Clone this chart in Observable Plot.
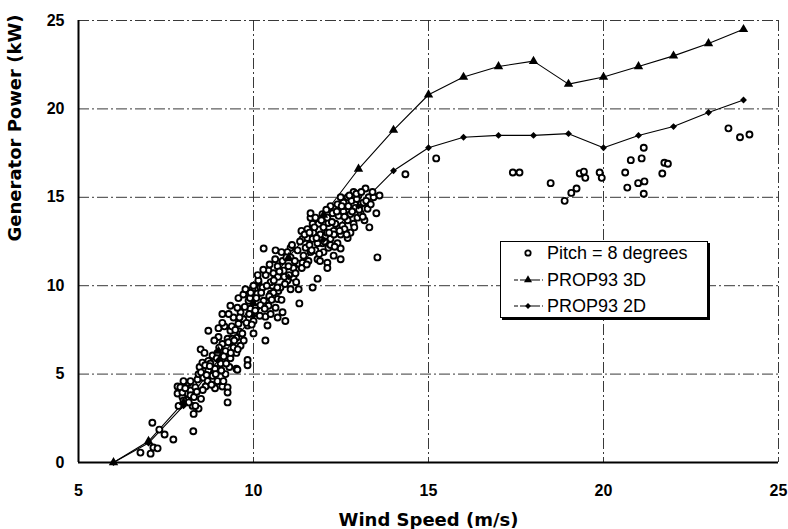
<!DOCTYPE html>
<html>
<head>
<meta charset="utf-8">
<script src="https://cdn.jsdelivr.net/npm/d3@7"></script>
<script src="https://cdn.jsdelivr.net/npm/@observablehq/plot@0.6"></script>
<style>
  body { margin: 0; background: #fff; }
  #wrap { position: relative; width: 788px; height: 529px; }
  #legend { position: absolute; left: 500px; top: 241px; width: 206px; height: 75px;
            border: 1px solid #000; box-shadow: 2px 2px 0 #000; background: #fff; }
</style>
</head>
<body>
<div id="wrap"></div>
<script>
// ---- data ----
const xTicks = [5, 10, 15, 20, 25];
const yTicks = [0, 5, 10, 15, 20, 25];
const xGrid = [10, 15, 20, 25];
const yGrid = [5, 10, 15, 20, 25];

const modelWind = [6, 7, 8, 9, 10, 11, 12, 13, 14, 15, 16, 17, 18, 19, 20, 21, 22, 23, 24];
const prop3D = [0, 1.2, 3.4, 6.3, 9.0, 11.6, 14.0, 16.6, 18.8, 20.8, 21.8, 22.4, 22.7, 21.4, 21.8, 22.4, 23.0, 23.7, 24.5];
const prop2D = [0, 1.1, 3.2, 5.8, 8.3, 10.5, 12.6, 14.5, 16.5, 17.8, 18.4, 18.5, 18.5, 18.6, 17.8, 18.5, 19.0, 19.8, 20.5];

const legendLabels = ["Pitch = 8 degrees", "PROP93 3D", "PROP93 2D"];
const xTitle = "Wind Speed (m/s)";
const yTitle = "Generator Power (kW)";

// measured points, Pitch = 8 degrees: [wind speed, power]
const pitchPoints = [
  [6.77,0.56],[7.06,0.5],[7.14,0.85],[7.26,0.8],[7.11,2.25],[7.31,1.86],[7.46,1.58],[7.71,1.3],
  [8.28,1.77],[7.83,4.3],[7.86,3.2],[7.83,3.9],[7.97,3.7],[7.91,4.25],[8.11,3.9],[8.2,4.07],
  [8.14,4.5],[8.34,4.25],[8.2,4.6],[8.4,4.7],[8.26,3.2],[8.43,3.05],[8.29,2.75],[8.0,4.6],
  [7.97,3.96],[8.2,3.8],[8.0,3.5],[8.34,3.2],[8.46,5.4],[8.43,5.0],[8.57,4.8],[8.71,5.2],
  [8.69,4.6],[8.83,4.9],[8.63,4.3],[8.97,4.6],[9.11,4.3],[9.26,4.25],[9.26,3.96],[9.14,4.6],
  [8.49,6.4],[8.54,5.65],[8.71,5.75],[8.83,6.05],[8.77,5.6],[8.97,6.2],[9.06,5.6],[9.11,6.7],
  [9.2,6.3],[9.34,5.9],[9.26,7.0],[9.43,6.5],[9.51,6.2],[9.51,5.3],[9.31,5.4],[9.0,7.1],
  [9.0,7.6],[9.17,7.7],[9.34,7.45],[9.51,7.05],[9.63,6.6],[9.57,7.85],[9.43,8.2],[9.29,8.4],
  [9.11,7.9],[9.63,8.5],[9.71,8.1],[9.83,7.75],[9.57,9.3],[9.71,9.5],[9.86,9.15],[9.91,8.7],
  [9.97,9.8],[10.11,9.55],[10.14,10.2],[10.0,7.3],[10.34,6.9],[9.83,5.8],[9.83,5.5],[9.54,5.25],
  [9.26,3.4],[10.34,8.25],[10.4,7.75],[10.69,8.2],[10.29,9.15],[10.43,8.87],[10.49,9.55],[10.54,10.0],
  [10.0,8.0],[9.11,8.4],[9.34,8.87],[8.71,7.45],[10.63,8.75],[10.69,9.25],[10.71,9.7],[10.83,8.5],
  [10.91,8.0],[10.49,8.4],[10.2,9.9],[9.54,8.75],[8.88,6.9],[8.6,6.2],[8.9,5.3],[9.4,7.0],
  [9.77,9.8],[10.0,10.0],[10.14,10.3],[10.26,9.9],[10.49,10.2],[10.43,10.85],[10.57,10.7],[10.69,11.1],
  [10.83,11.4],[10.86,10.85],[11.06,11.6],[11.14,11.0],[11.29,11.25],[11.06,12.15],[10.97,11.9],[11.26,12.0],
  [11.43,11.7],[11.49,12.15],[11.63,11.9],[11.57,11.4],[11.83,11.5],[11.77,12.0],[12.0,11.9],[11.97,12.4],
  [12.14,12.15],[12.11,11.3],[12.29,11.7],[11.4,12.65],[11.54,12.7],[11.69,12.65],[11.83,12.4],[11.71,13.0],
  [11.91,12.9],[12.06,12.8],[12.2,12.65],[12.4,12.4],[12.49,12.1],[12.29,13.1],[12.49,12.9],[12.69,12.7],
  [12.77,13.0],[11.54,13.2],[11.37,13.1],[11.69,13.5],[11.86,13.5],[12.0,13.3],[12.14,13.55],[12.34,13.5],
  [12.54,13.4],[12.69,13.7],[12.86,13.5],[11.63,13.85],[11.63,14.1],[11.77,13.85],[11.97,14.05],[12.11,13.85],
  [12.26,14.1],[12.43,13.95],[12.57,14.2],[12.77,14.05],[12.97,13.85],[12.2,14.5],[12.4,14.6],[12.57,14.7],
  [12.71,14.5],[12.91,14.4],[13.06,14.6],[12.49,15.0],[12.69,15.0],[12.86,15.3],[13.0,15.1],[13.2,15.5],
  [13.29,15.0],[13.43,15.0],[13.6,15.1],[13.4,15.3],[13.14,14.7],[13.26,14.35],[13.06,14.1],[13.17,13.7],
  [13.31,13.3],[13.51,14.1],[13.54,11.6],[12.49,11.5],[11.69,9.9],[11.83,10.4],[11.14,10.45],[10.97,10.3],
  [10.77,9.9],[11.06,9.8],[10.57,9.6],[10.29,12.1],[10.63,12.0],[11.29,9.8],[11.31,9.0],[12.11,11.0],
  [11.2,10.7],[11.4,11.3],[11.0,11.1],[10.7,10.5],[10.35,10.6],[10.9,10.1],[11.6,12.3],[12.3,12.9],
  [12.6,13.2],[12.1,13.0],[12.8,14.8],[12.95,14.9],[11.9,11.4],[12.2,12.3],[10.45,9.4],[10.8,9.2],
  [9.9,9.3],[10.2,8.9],[9.6,7.4],[9.2,5.0],[8.9,4.2],[8.55,4.1],
  [8.05,4.2],[8.15,3.4],[8.3,3.7],[8.38,4.0],[8.5,3.6],[8.5,5.1],[8.62,5.5],[8.66,4.95],
  [8.75,5.45],[8.8,4.4],[8.92,5.0],[8.95,5.9],[9.02,6.5],[9.08,5.2],[9.15,6.0],[9.22,5.6],
  [9.28,6.8],[9.35,6.2],[9.38,7.7],[9.45,6.9],[9.48,7.5],[9.55,6.4],[9.6,8.2],[9.68,7.3],
  [9.72,6.9],[9.75,8.8],[9.8,7.9],[9.88,8.4],[9.92,9.6],[9.95,7.8],[10.05,8.6],[10.08,9.3],
  [10.12,10.6],[10.18,8.3],[10.22,9.6],[10.28,10.9],[10.32,8.7],[10.38,10.0],[10.46,11.2],[10.52,9.2],
  [10.58,10.3],[10.62,11.5],[10.68,9.9],[10.74,10.8],[10.8,11.9],[10.88,10.5],[10.94,11.6],[11.02,10.6],
  [11.1,12.3],[11.18,11.4],[11.22,10.2],[11.33,12.5],[11.38,11.0],[11.46,12.9],[11.52,11.2],[11.6,13.0],
  [11.66,12.0],[11.74,13.3],[11.8,12.7],[11.88,11.8],[11.94,13.7],[12.03,12.5],[12.08,14.3],[12.16,13.0],
  [12.24,13.6],[12.32,12.2],[12.38,14.2],[12.46,13.1],[12.52,14.5],[12.6,13.9],[12.66,12.9],[12.74,15.1],
  [12.82,14.2],[12.88,13.3],[12.94,15.2],[13.02,14.3],[13.08,15.3],[13.12,13.9],[13.22,14.8],[13.35,14.6],
  [14.34,16.3],[15.22,17.2],[17.41,16.4],[17.6,16.4],[18.49,15.8],[18.89,14.8],[19.08,15.25],[19.23,15.5],
  [19.32,16.35],[19.44,16.45],[19.48,16.1],[19.89,16.4],[19.95,16.1],[20.62,16.4],[20.68,15.55],[20.78,17.1],
  [20.99,15.8],[21.09,17.2],[21.15,17.8],[21.17,15.9],[21.15,15.2],[21.68,16.35],[21.74,16.95],[21.84,16.9],
  [23.57,18.9],[23.9,18.4],[24.17,18.55]
];

// ---- chart ----
const model3D = modelWind.map((w, i) => ({wind: w, power: prop3D[i]}));
const model2D = modelWind.map((w, i) => ({wind: w, power: prop2D[i]}));
const tickFont = '"Liberation Sans", Arial, sans-serif';
const titleFont = '"DejaVu Sans", sans-serif';
const gridStyle = {stroke: "#222", strokeWidth: 0.9, strokeDasharray: "11,3,2,3"};

const chart = Plot.plot({
  width: 788,
  height: 529,
  marginLeft: 78,
  marginRight: 10,
  marginTop: 20,
  marginBottom: 67,
  style: {background: "#fff", color: "#000", fontFamily: tickFont},
  x: {domain: [xTicks[0], xTicks[xTicks.length - 1]], label: null},
  y: {domain: [yTicks[0], yTicks[yTicks.length - 1]], label: null},
  marks: [
    Plot.ruleX(xGrid, gridStyle),
    Plot.ruleY(yGrid, gridStyle),
    Plot.line(model3D, {x: "wind", y: "power", stroke: "#000", strokeWidth: 1.1}),
    Plot.line(model2D, {x: "wind", y: "power", stroke: "#000", strokeWidth: 1.1}),
    Plot.dot(pitchPoints, {x: d => d[0], y: d => d[1], r: 3, fill: "#fff", stroke: "#000", strokeWidth: 1.9}),
    Plot.dot(model3D, {x: "wind", y: "power", symbol: "triangle", r: 3.5, fill: "#000", stroke: null}),
    Plot.dot(model2D, {x: "wind", y: "power", symbol: "diamond2", r: 3.1, fill: "#000", stroke: null}),
    Plot.ruleX([xTicks[0]], {stroke: "#000", strokeWidth: 2}),
    Plot.ruleY([yTicks[0]], {stroke: "#000", strokeWidth: 2.2}),
    Plot.axisX({ticks: xTicks, tickSize: 0, tickPadding: 22, fontSize: 16, fontWeight: "bold", fontFamily: tickFont, label: null}),
    Plot.axisY({ticks: yTicks, tickSize: 0, tickPadding: 14, fontSize: 16, fontWeight: "bold", fontFamily: tickFont, label: null}),
    Plot.text([xTitle], {text: d => d, frameAnchor: "bottom", dy: 63, lineAnchor: "bottom",
      fontSize: 18, fontWeight: "bold", fontFamily: titleFont, fill: "#000"}),
    Plot.text([yTitle], {text: d => d, frameAnchor: "left", dx: -70, rotate: -90, lineAnchor: "top",
      fontSize: 18, fontWeight: "bold", fontFamily: titleFont, fill: "#000"})
  ]
});

const wrap = document.getElementById("wrap");
wrap.appendChild(chart);

// ---- legend ----
const legend = d3.select(wrap).append("div").attr("id", "legend");
const lsvg = legend.append("svg").attr("width", 206).attr("height", 75);
const rows = [
  {kind: "circle", base: 17},
  {kind: "triangle", base: 44},
  {kind: "diamond", base: 70}
];
rows.forEach((r, i) => {
  const cy = r.base - 6;
  if (r.kind === "circle") {
    lsvg.append("circle").attr("cx", 27).attr("cy", cy).attr("r", 2.7)
      .attr("fill", "#fff").attr("stroke", "#000").attr("stroke-width", 1.8);
  } else {
    lsvg.append("line").attr("x1", 13).attr("x2", 42).attr("y1", cy).attr("y2", cy)
      .attr("stroke", "#000").attr("stroke-width", 1.1).attr("stroke-dasharray", "4,2,20,2,4");
    const sym = r.kind === "triangle" ? d3.symbolTriangle : d3.symbolDiamond2;
    lsvg.append("path").attr("d", d3.symbol(sym, r.kind === "triangle" ? 28 : 22)())
      .attr("transform", `translate(27,${cy})`).attr("fill", "#000");
  }
  lsvg.append("text").attr("x", 46).attr("y", r.base).text(legendLabels[i])
    .attr("font-family", tickFont).attr("font-size", 18).attr("fill", "#000");
});
</script>
</body>
</html>
